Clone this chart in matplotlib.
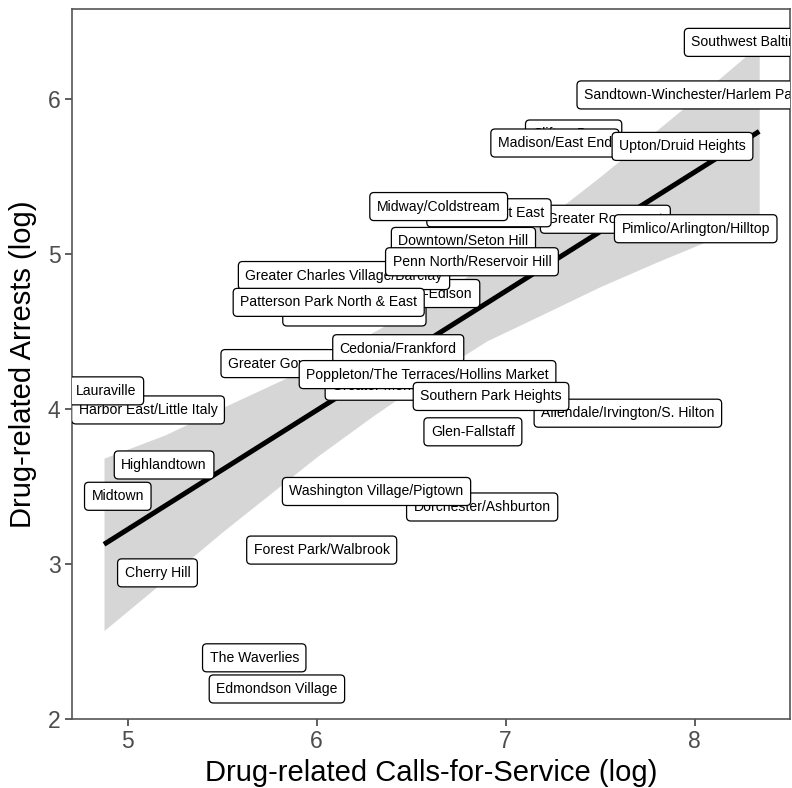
import matplotlib.pyplot as plt

plt.rcParams['font.family'] = ['Liberation Sans', 'DejaVu Sans']

# Baltimore community statistical areas, in drawing order (later labels sit on top)
areas = [
    "Southwest Baltimore", "Sandtown-Winchester/Harlem Park", "Clifton-Berea",
    "Madison/East End", "Upton/Druid Heights", "Greater Rosemont", "Greenmount East",
    "Midway/Coldstream", "Pimlico/Arlington/Hilltop", "Downtown/Seton Hill",
    "Oldtown/Middle East", "Belair-Edison", "Greater Charles Village/Barclay",
    "Patterson Park North & East", "Penn North/Reservoir Hill", "Greater Govans",
    "Cedonia/Frankford", "Greater Mondawmin", "Allendale/Irvington/S. Hilton",
    "Poppleton/The Terraces/Hollins Market", "Southern Park Heights", "Glen-Fallstaff",
    "Harbor East/Little Italy", "Lauraville", "Highlandtown", "Midtown",
    "Dorchester/Ashburton", "Washington Village/Pigtown", "Forest Park/Walbrook",
    "Cherry Hill", "The Waverlies", "Edmondson Village",
]
calls_log = [
    8.325, 7.997, 7.360, 7.261, 7.936, 7.528, 6.912, 6.646, 8.006, 6.777,
    6.200, 6.605, 6.145, 6.064, 6.822, 5.796, 6.432, 6.420, 7.647, 6.587,
    6.923, 6.827, 5.108, 4.888, 5.193, 4.948, 6.876, 6.317, 6.027, 5.158,
    5.670, 5.790,
]
arrests_log = [
    6.366, 6.027, 5.775, 5.717, 5.695, 5.225, 5.267, 5.307, 5.164, 5.082,
    4.627, 4.746, 4.862, 4.689, 4.951, 4.294, 4.390, 4.148, 3.974, 4.223,
    4.082, 3.854, 3.995, 4.118, 3.640, 3.438, 3.369, 3.469, 3.091, 2.944,
    2.396, 2.195,
]

# linear fit and its confidence band
fit_x = [4.875, 8.342]
fit_y = [3.128, 5.792]
band_x = [4.875, 5.2, 5.5, 6.0, 6.3, 6.6, 6.9, 7.2, 7.5, 7.8, 8.1, 8.342]
band_lo = [2.572, 2.900, 3.207, 3.692, 3.958, 4.208, 4.440, 4.614, 4.790, 4.949, 5.100, 5.231]
band_hi = [3.684, 3.835, 4.009, 4.292, 4.498, 4.698, 4.940, 5.214, 5.500, 5.799, 6.100, 6.351]

fig = plt.figure(figsize=(7.92, 7.88), dpi=100)
ax = fig.add_axes([0.0905, 0.0873, 0.907, 0.901])

ax.fill_between(band_x, band_lo, band_hi, color='#d6d6d6', lw=0, zorder=1)
ax.plot(fit_x, fit_y, color='black', lw=3.6, solid_capstyle='butt', zorder=2)

for i, (name, x, y) in enumerate(zip(areas, calls_log, arrests_log)):
    ax.text(x, y, name, ha='center', va='center', fontsize=10.1, zorder=3 + i,
            clip_on=True,
            bbox=dict(boxstyle='round,pad=0.5,rounding_size=0.3',
                      fc='white', ec='black', lw=0.9))

ax.set_xlim(4.704, 8.505)
ax.set_ylim(2.0, 6.58)
ax.set_xticks([5, 6, 7, 8])
ax.set_yticks([2, 3, 4, 5, 6])
for s in ax.spines.values():
    s.set_color('#555555')
    s.set_linewidth(1.2)
ax.tick_params(length=5, width=1.1, color='#333333', labelcolor='#4d4d4d',
               labelsize=16.5, pad=3)
ax.set_xlabel('Drug-related Calls-for-Service (log)', fontsize=21, labelpad=4)
ax.set_ylabel('Drug-related Arrests (log)', fontsize=21, labelpad=8)

fig.savefig('out.png', dpi=100)
